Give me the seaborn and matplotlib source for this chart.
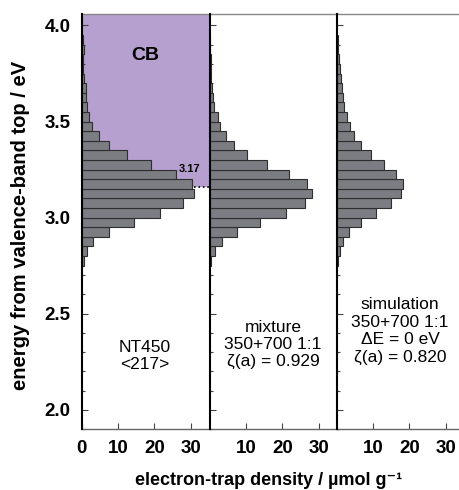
"""Electron-trap density distributions (ERDT) for NT450, mixture and simulation"""
import matplotlib.pyplot as plt
import numpy as np
import seaborn as sns

# lower edge of each 0.05 eV energy bin / eV
energy = [2.75, 2.80, 2.85, 2.90, 2.95, 3.00, 3.05, 3.10, 3.15, 3.20, 3.25, 3.30,
          3.35, 3.40, 3.45, 3.50, 3.55, 3.60, 3.65, 3.70, 3.75, 3.80, 3.85, 3.90]
bin_width = 0.05

# electron-trap density / umol g-1
nt450 = [0.5, 1.3, 3.2, 7.5, 14.3, 21.7, 27.8, 31.0, 30.4, 26.0, 19.2, 12.5,
         7.6, 4.7, 2.9, 2.1, 1.4, 1.1, 1.2, 0.5, 0.2, 0.2, 0.7, 0.4]
mixture = [0.4, 1.4, 3.4, 7.5, 13.9, 20.9, 26.1, 28.2, 26.8, 21.9, 15.8, 10.3,
           6.5, 4.4, 2.7, 2.1, 1.1, 0.9, 0.5, 0.4, 0.2, 0.15, 0.1, 0.05]
simulation = [0.3, 0.8, 1.6, 3.4, 6.5, 10.9, 15.0, 17.8, 18.3, 16.2, 12.9, 9.3,
              6.6, 4.7, 3.6, 2.8, 2.0, 1.7, 1.5, 1.0, 0.7, 0.6, 0.4, 0.2]

panel_texts = [
    "NT450\n<217>",
    "mixture\n350+700 1:1\nζ(a) = 0.929",
    "simulation\n350+700 1:1\nΔE = 0 eV\nζ(a) = 0.820",
]
panel_text_y = [2.28, 2.34, 2.41]
cb_edge = 3.16
cb_label = "3.17"

bar_color = "#7b7d82"
edge_color = "#2e2e2e"
cb_color = "#b6a0cf"

sns.set_style("ticks")
plt.rcParams["font.family"] = ["Liberation Sans", "DejaVu Sans"]
plt.rcParams["text.color"] = "black"
plt.rcParams["xtick.labelcolor"] = "black"
plt.rcParams["ytick.labelcolor"] = "black"

centers = np.array(energy) + bin_width / 2
edges = list(energy) + [energy[-1] + bin_width]

fig = plt.figure(figsize=(4.6, 4.9), dpi=100)
lefts = [0.178, 0.4565, 0.7326]
xmax = 35.3

for i, (vals, txt, ty) in enumerate(zip([nt450, mixture, simulation], panel_texts, panel_text_y)):
    ax = fig.add_axes([lefts[i], 0.1245, 0.278, 0.847])

    if i == 0:
        ax.axhspan(cb_edge, 4.06, color=cb_color, lw=0, zorder=0)

    sns.histplot(y=centers, weights=vals, bins=edges, ax=ax, color=bar_color,
                 edgecolor=edge_color, linewidth=0.8, alpha=1, zorder=2)

    if i == 0:
        ax.plot([max(vals), xmax], [cb_edge, cb_edge], ls=":", color="k", lw=1.2, zorder=3)
        ax.text(29.8, 3.255, cb_label, ha="center", va="center", fontsize=8, fontweight="bold")
        ax.text(17.6, 3.845, "CB", ha="center", va="center", fontsize=14, fontweight="bold")

    ax.text(17.4, ty, txt, ha="center", va="center", fontsize=12.5, linespacing=1.2)

    ax.set_xlim(0, xmax)
    ax.set_ylim(1.91, 4.06)
    ax.set_yticks([2.0, 2.5, 3.0, 3.5, 4.0])
    ax.set_yticks(np.arange(1.9, 4.05, 0.1), minor=True)
    ax.set_xticks([0, 10, 20, 30] if i == 0 else [10, 20, 30])
    ax.tick_params(direction="in", length=4, width=0.8, color="#444444", labelsize=13.5, pad=8)
    ax.tick_params(axis="y", which="minor", direction="in", length=2.5, width=0.8, color="#444444")
    for lab in ax.get_xticklabels() + ax.get_yticklabels():
        lab.set_fontweight("bold")
    if i > 0:
        ax.set_yticklabels([])
    ax.set_xlabel("")
    ax.set_ylabel("")

    ax.spines["right"].set_visible(False)
    ax.spines["left"].set_color("black")
    ax.spines["left"].set_linewidth(1.5)
    ax.spines["left"].set_zorder(4)
    ax.spines["top"].set_color("#888888")
    ax.spines["bottom"].set_color("#666666")
    ax.spines["top"].set_linewidth(1.0)
    ax.spines["bottom"].set_linewidth(1.0)

fig.text(0.045, 0.54, "energy from valence-band top / eV", rotation=90,
         ha="center", va="center", fontsize=14.5, fontweight="bold")
fig.text(0.583, 0.02, "electron-trap density / µmol g⁻¹",
         ha="center", va="center", fontsize=13, fontweight="bold")

fig.savefig("out.png", dpi=100)
